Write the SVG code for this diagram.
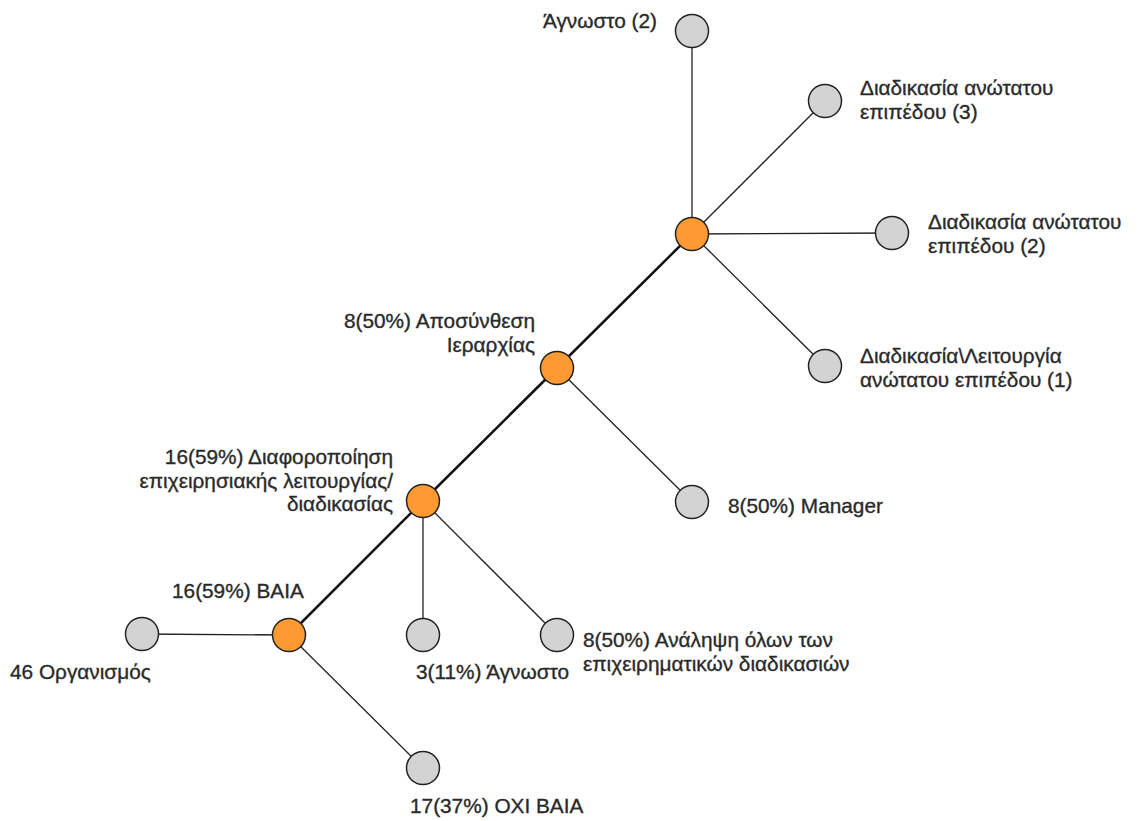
<svg xmlns="http://www.w3.org/2000/svg" width="1143" height="821" viewBox="0 0 1143 821">
  <style>
    .leaf { fill: #d3d3d3; stroke: #222; stroke-width: 1.5; }
    .hub { fill: #ff9a33; stroke: #222; stroke-width: 1.5; }
    .edge { stroke: #222; stroke-width: 1.3; fill: none; }
    .spine { stroke: #111; stroke-width: 2.5; fill: none; }
    text { font-family: "Liberation Sans", Arial, sans-serif; font-size: 20.8px; fill: #2a2a2a; stroke: #2a2a2a; stroke-width: 0.35; }
    .r { text-anchor: end; }
  </style>
  <rect width="1143" height="821" fill="#fff"/>

  <!-- connectors -->
  <g id="connectors">
    <line class="spine" x1="692" y1="234" x2="557" y2="368"/>
    <line class="spine" x1="557" y1="368" x2="423" y2="501"/>
    <line class="spine" x1="423" y1="501" x2="289" y2="635"/>
    <line class="edge" x1="692" y1="234" x2="692" y2="31"/>
    <line class="edge" x1="692" y1="234" x2="825" y2="101"/>
    <line class="edge" x1="692" y1="234" x2="892" y2="233"/>
    <line class="edge" x1="692" y1="234" x2="825" y2="366"/>
    <line class="edge" x1="557" y1="368" x2="692" y2="502"/>
    <line class="edge" x1="423" y1="501" x2="423" y2="635"/>
    <line class="edge" x1="423" y1="501" x2="557" y2="635"/>
    <line class="edge" x1="289" y1="635" x2="142" y2="634"/>
    <line class="edge" x1="289" y1="635" x2="423" y2="768"/>
  </g>

  <!-- nodes -->
  <g id="n-agnosto2">
    <circle class="leaf" cx="692" cy="31" r="16.5"/>
    <text class="r" x="657" y="28">Άγνωστο (2)</text>
  </g>
  <g id="n-anotatou3">
    <circle class="leaf" cx="825" cy="101" r="16.5"/>
    <text x="860" y="95">Διαδικασία ανώτατου</text>
    <text x="860" y="119">επιπέδου (3)</text>
  </g>
  <g id="n-anotatou2">
    <circle class="leaf" cx="892" cy="233" r="16.5"/>
    <text x="928" y="229">Διαδικασία ανώτατου</text>
    <text x="928" y="253">επιπέδου (2)</text>
  </g>
  <g id="n-anotatou1">
    <circle class="leaf" cx="825" cy="366" r="16.5"/>
    <text x="860" y="363">Διαδικασία\Λειτουργία</text>
    <text x="860" y="387">ανώτατου επιπέδου (1)</text>
  </g>
  <g id="n-top">
    <circle class="hub" cx="692" cy="234" r="16.5"/>
  </g>
  <g id="n-aposynthesi">
    <circle class="hub" cx="557" cy="368" r="16.5"/>
    <text class="r" x="535" y="328">8(50%) Αποσύνθεση</text>
    <text class="r" x="535" y="352">Ιεραρχίας</text>
  </g>
  <g id="n-manager">
    <circle class="leaf" cx="692" cy="502" r="16.5"/>
    <text x="728" y="513">8(50%) Manager</text>
  </g>
  <g id="n-diaforopoiisi">
    <circle class="hub" cx="423" cy="501" r="16.5"/>
    <text class="r" x="393" y="464">16(59%) Διαφοροποίηση</text>
    <text class="r" x="393" y="488">επιχειρησιακής λειτουργίας/</text>
    <text class="r" x="393" y="511">διαδικασίας</text>
  </g>
  <g id="n-baia">
    <circle class="hub" cx="289" cy="635" r="16.5"/>
    <text x="172" y="598">16(59%) ΒΑΙΑ</text>
  </g>
  <g id="n-organismos">
    <circle class="leaf" cx="142" cy="634" r="16.5"/>
    <text x="10" y="679">46 Οργανισμός</text>
  </g>
  <g id="n-agnosto">
    <circle class="leaf" cx="423" cy="635" r="16.5"/>
    <text x="416" y="679">3(11%) Άγνωστο</text>
  </g>
  <g id="n-analipsi">
    <circle class="leaf" cx="557" cy="635" r="16.5"/>
    <text x="583" y="647">8(50%) Ανάληψη όλων των</text>
    <text x="583" y="671">επιχειρηματικών διαδικασιών</text>
  </g>
  <g id="n-oxi-baia">
    <circle class="leaf" cx="423" cy="768" r="16.5"/>
    <text x="410" y="813">17(37%) ΟΧΙ ΒΑΙΑ</text>
  </g>
</svg>
